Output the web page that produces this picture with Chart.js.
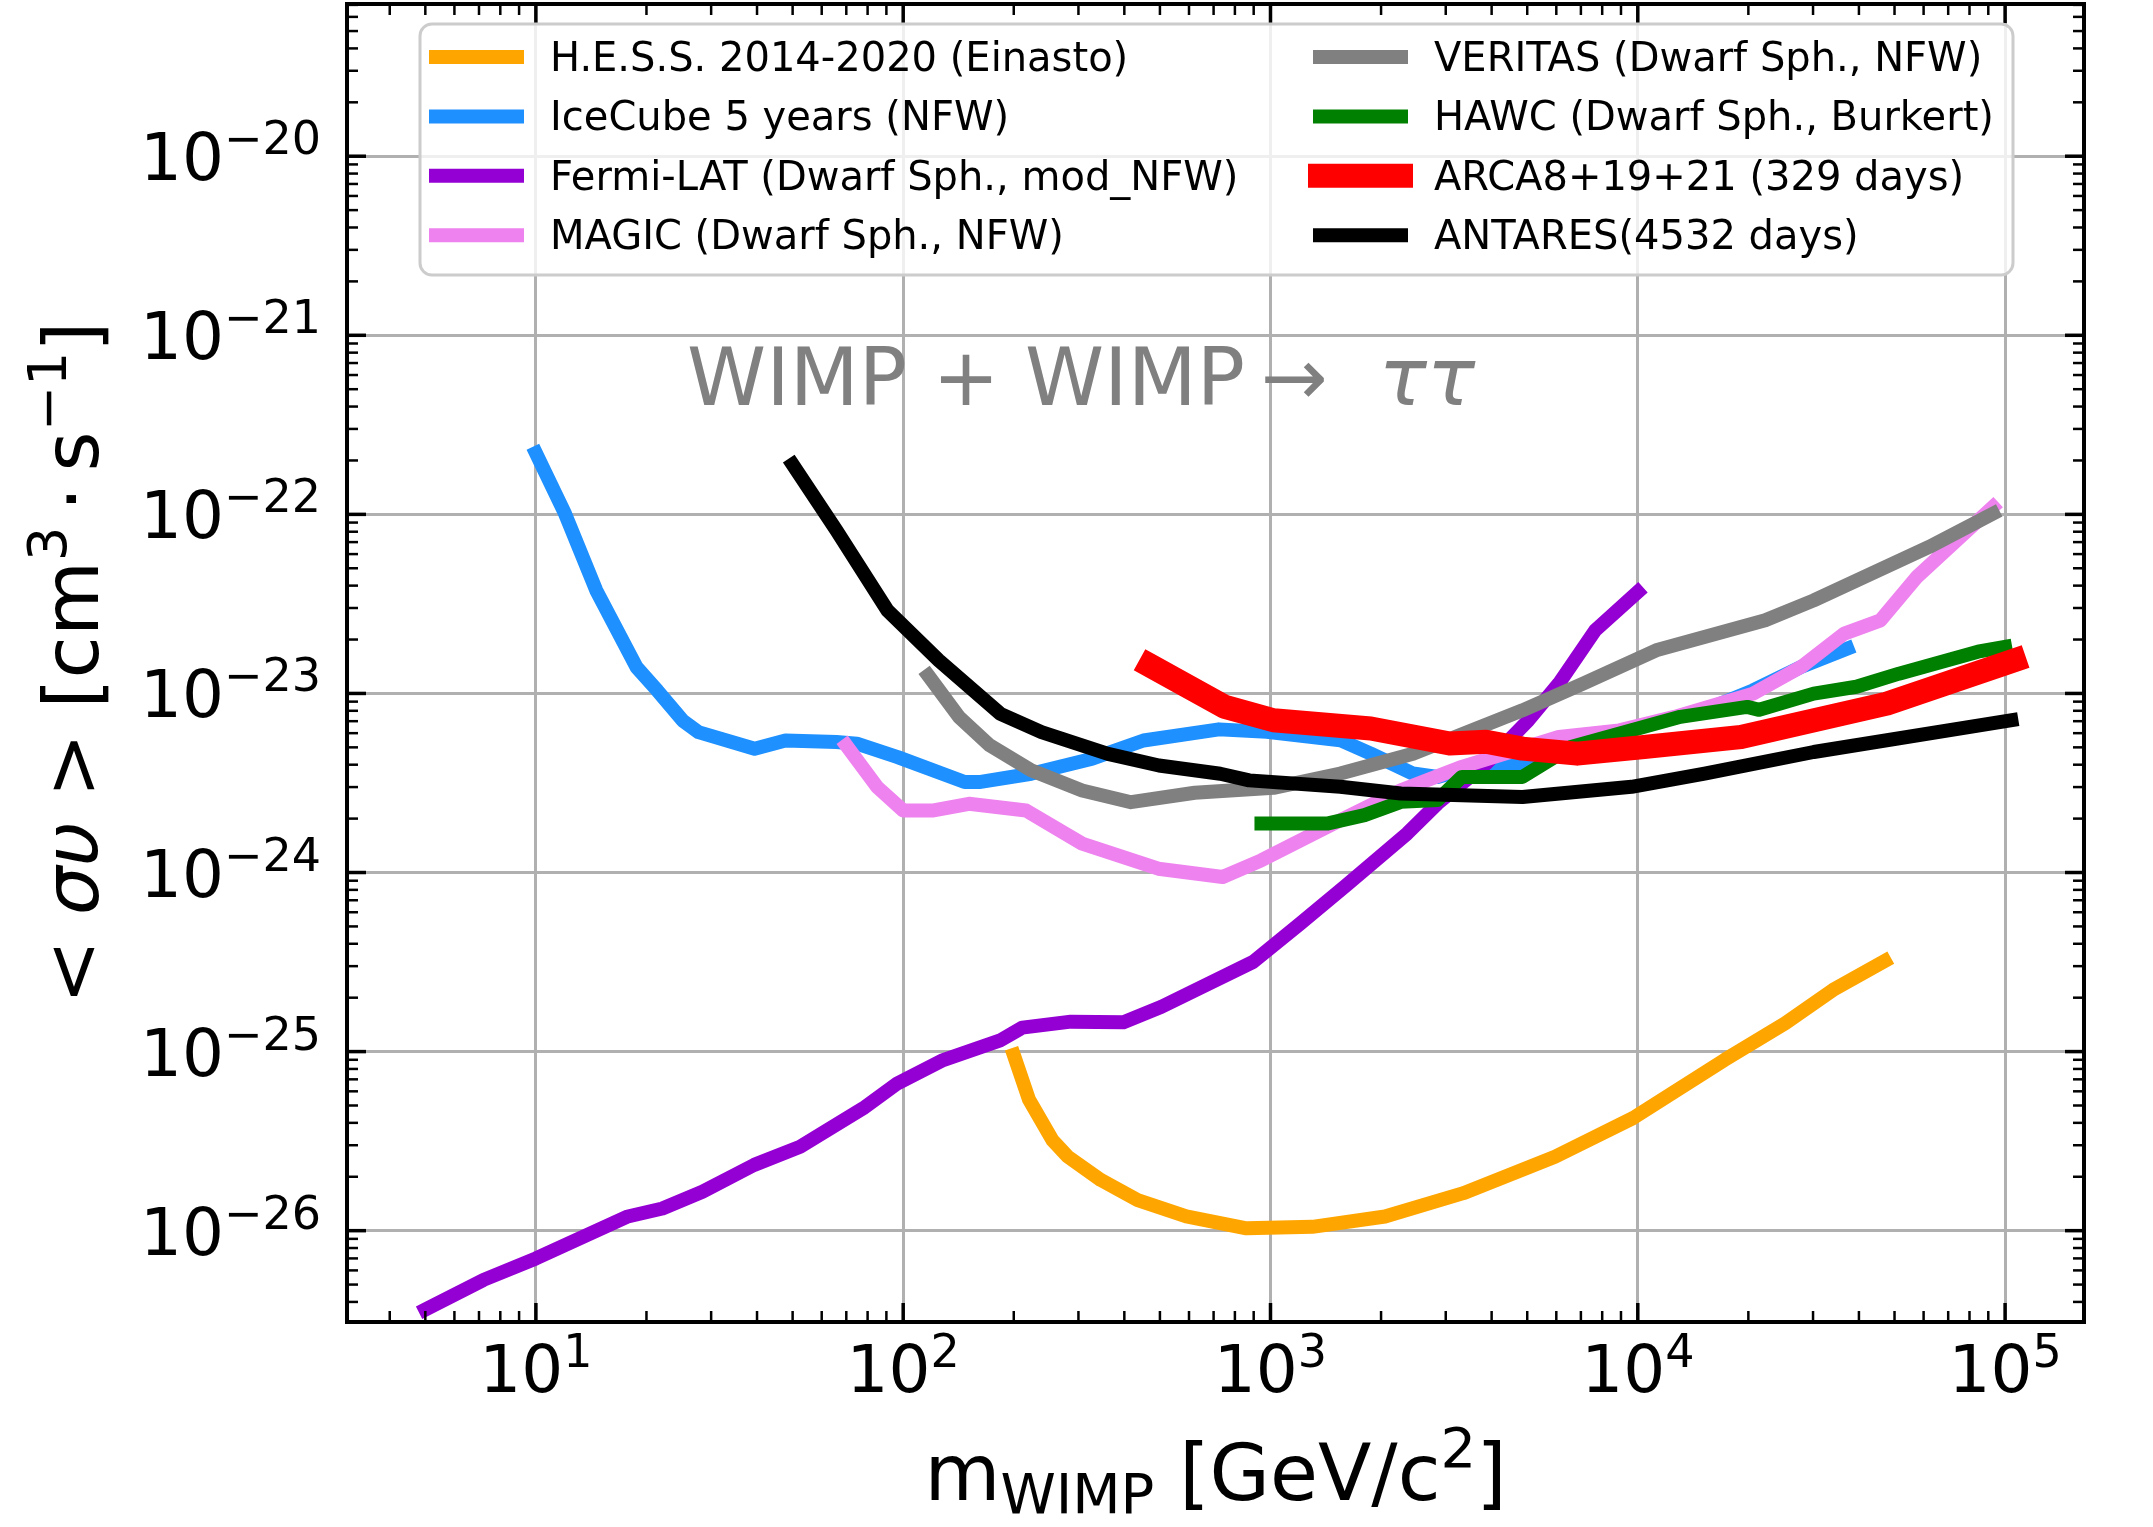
<!DOCTYPE html>
<html>
<head>
  <title>WIMP annihilation limits (tau tau)</title>
  <script src="https://cdn.jsdelivr.net/npm/chart.js"></script>
  <style>
    body { margin: 0; background: #fff; }
  </style>
</head>
<body>
  <canvas id="limitsChart" width="2153" height="1527"></canvas>

  <script>
    // WIMP mass [GeV/c^2] and <sigma v> upper limits [cm^3 s^-1]
    const hessMass  = [200, 220, 255, 280, 345, 435, 590, 860, 1300, 2050, 3350, 5950, 9700, 17200, 25200, 34000, 47000];
    const hessSigma = [9.6e-26, 5.4e-26, 3.2e-26, 2.6e-26, 1.92e-26, 1.48e-26, 1.2e-26, 1.03e-26, 1.05e-26, 1.2e-26, 1.62e-26, 2.59e-26, 4.25e-26, 8.97e-26, 1.44e-25, 2.21e-25, 3.2e-25];

    const iceMass  = [10, 12, 14.6, 18.8, 21.4, 25.1, 27.7, 39.4, 47.8, 65.8, 74.8, 96.6, 147, 161, 223, 327, 451, 724, 977, 1549, 1875, 2443, 2851, 3581, 4853, 7096, 10400, 15200, 20600, 27900, 37200];
    const iceSigma = [2.2e-22, 1.01e-22, 3.76e-23, 1.4e-23, 1.04e-23, 7.06e-24, 6.08e-24, 4.91e-24, 5.46e-24, 5.35e-24, 5.24e-24, 4.41e-24, 3.2e-24, 3.2e-24, 3.56e-24, 4.32e-24, 5.46e-24, 6.3e-24, 6.1e-24, 5.48e-24, 4.61e-24, 3.57e-24, 3.42e-24, 3.89e-24, 4.06e-24, 5.25e-24, 6.64e-24, 8.05e-24, 1.04e-23, 1.41e-23, 1.78e-23];

    const fermiMass  = [5, 7.2, 10, 17.8, 22.1, 28.4, 39.3, 52.4, 77.8, 96.4, 128.5, 184.5, 211, 286, 398, 505, 897, 1208, 1610, 2355, 2851, 3864, 5035, 6095, 7656, 10000];
    const fermiSigma = [3.63e-27, 5.31e-27, 7.0e-27, 1.2e-26, 1.33e-26, 1.65e-26, 2.33e-26, 2.94e-26, 4.82e-26, 6.64e-26, 8.97e-26, 1.16e-25, 1.36e-25, 1.47e-25, 1.46e-25, 1.78e-25, 3.17e-25, 5.21e-25, 8.51e-25, 1.65e-24, 2.43e-24, 4.06e-24, 7.08e-24, 1.135e-23, 2.25e-23, 3.69e-23];

    const magicMass  = [70, 85, 100, 121, 151, 216, 307, 495, 741, 944, 1549, 2265, 3319, 6095, 8913, 12590, 20600, 27900, 36500, 45800, 57500, 92700];
    const magicSigma = [5.13e-24, 3.0e-24, 2.22e-24, 2.22e-24, 2.42e-24, 2.22e-24, 1.45e-24, 1.05e-24, 9.44e-25, 1.17e-24, 1.96e-24, 2.88e-24, 3.89e-24, 5.71e-24, 6.22e-24, 7.4e-24, 9.98e-24, 1.41e-23, 2.16e-23, 2.56e-23, 4.47e-23, 1.1e-22];

    const veritasMass  = [117, 142, 172, 223, 307, 417, 622, 1019, 1549, 2443, 4853, 7096, 11220, 22230, 30130, 62090, 92700];
    const veritasSigma = [1.26e-23, 7.38e-24, 5.13e-24, 3.72e-24, 2.87e-24, 2.47e-24, 2.79e-24, 2.97e-24, 3.57e-24, 4.61e-24, 8.05e-24, 1.135e-23, 1.74e-23, 2.56e-23, 3.31e-23, 6.58e-23, 1.01e-22];

    const hawcMass  = [945, 1435, 1803, 2265, 2851, 3319, 4853, 6577, 13060, 19860, 21400, 30130, 39360, 51400, 84330, 100000];
    const hawcSigma = [1.88e-24, 1.88e-24, 2.09e-24, 2.48e-24, 2.54e-24, 3.42e-24, 3.42e-24, 5.02e-24, 7.4e-24, 8.41e-24, 8.1e-24, 9.98e-24, 1.09e-23, 1.29e-23, 1.71e-23, 1.82e-23];

    const arcaMass  = [470, 752, 1019, 1875, 3076, 3864, 4853, 6839, 10400, 19100, 47640, 105900];
    const arcaSigma = [1.43e-23, 8.41e-24, 7.08e-24, 6.37e-24, 5.25e-24, 5.37e-24, 4.92e-24, 4.61e-24, 5.02e-24, 5.71e-24, 8.77e-24, 1.53e-23];

    const antaresMass  = [50, 65.8, 90.6, 125, 184, 238, 361, 497, 730, 875, 1549, 2265, 4853, 9616, 15200, 30130, 104000];
    const antaresSigma = [1.9e-22, 8.15e-23, 2.91e-23, 1.53e-23, 7.69e-24, 6.08e-24, 4.6e-24, 3.96e-24, 3.56e-24, 3.27e-24, 3.01e-24, 2.76e-24, 2.64e-24, 3.01e-24, 3.57e-24, 4.71e-24, 7.08e-24];

    const seriesLabels = [
      'H.E.S.S. 2014-2020 (Einasto)',
      'IceCube 5 years (NFW)',
      'Fermi-LAT (Dwarf Sph., mod_NFW)',
      'MAGIC (Dwarf Sph., NFW)',
      'VERITAS (Dwarf Sph., NFW)',
      'HAWC (Dwarf Sph., Burkert)',
      'ARCA8+19+21 (329 days)',
      'ANTARES(4532 days)'
    ];
    const seriesMass  = [hessMass, iceMass, fermiMass, magicMass, veritasMass, hawcMass, arcaMass, antaresMass];
    const seriesSigma = [hessSigma, iceSigma, fermiSigma, magicSigma, veritasSigma, hawcSigma, arcaSigma, antaresSigma];

    // tick labels are powers of ten
    const xTickExponents = [1, 2, 3, 4, 5];
    const yTickExponents = [-26, -25, -24, -23, -22, -21, -20];

    // styling
    const seriesColors = ['#ffa500', '#1e90ff', '#9400d3', '#ee82ee', '#808080', '#008000', '#ff0000', '#000000'];
    const seriesWidths = [14, 14, 14, 14, 14, 14, 24, 14];
    const FONT = "'DejaVu Sans', sans-serif";

    function font(size, italic) {
      return (italic ? 'italic ' : '') + size + 'px ' + FONT;
    }

    // draw a row of text pieces (for super/subscripts); align: left | center | right
    function drawRuns(ctx, runs, x, y, align) {
      let total = 0;
      runs.forEach(r => {
        ctx.font = font(r.size, r.italic);
        r.w = ctx.measureText(r.t).width;
        total += r.w;
      });
      let cx = x;
      if (align === 'center') cx = x - total / 2;
      if (align === 'right') cx = x - total;
      ctx.textAlign = 'left';
      ctx.textBaseline = 'alphabetic';
      runs.forEach(r => {
        ctx.font = font(r.size, r.italic);
        ctx.fillText(r.t, cx, y + (r.dy || 0));
        cx += r.w;
      });
    }

    function line(ctx, x1, y1, x2, y2) {
      ctx.beginPath();
      ctx.moveTo(x1, y1);
      ctx.lineTo(x2, y2);
      ctx.stroke();
    }

    const decorations = {
      id: 'decorations',
      afterDraw(chart) {
        const ctx = chart.ctx;
        const a = chart.chartArea;
        const sx = chart.scales.x;
        const sy = chart.scales.y;
        ctx.save();
        ctx.fillStyle = '#000';
        ctx.strokeStyle = '#000';
        ctx.lineCap = 'butt';

        // inward ticks on all four sides
        for (let e = 0; e <= 5; e++) {
          for (let k = 1; k <= 9; k++) {
            const v = k * Math.pow(10, e);
            if (v < sx.min || v > sx.max) continue;
            const px = sx.getPixelForValue(v);
            const len = k === 1 ? 19 : 11;
            ctx.lineWidth = k === 1 ? 3.5 : 2.5;
            line(ctx, px, a.bottom, px, a.bottom - len);
            line(ctx, px, a.top, px, a.top + len);
          }
        }
        for (let e = -27; e <= -19; e++) {
          for (let k = 1; k <= 9; k++) {
            const v = k * Math.pow(10, e);
            if (v < sy.min || v > sy.max) continue;
            const py = sy.getPixelForValue(v);
            const len = k === 1 ? 19 : 11;
            ctx.lineWidth = k === 1 ? 3.5 : 2.5;
            line(ctx, a.left, py, a.left + len, py);
            line(ctx, a.right, py, a.right - len, py);
          }
        }

        // frame
        ctx.lineWidth = 4;
        ctx.strokeRect(a.left, a.top, a.right - a.left, a.bottom - a.top);

        // tick labels
        xTickExponents.forEach(e => {
          const px = sx.getPixelForValue(Math.pow(10, e));
          drawRuns(ctx, [
            {t: '10', size: 66},
            {t: String(e), size: 46, dy: -25}
          ], px, a.bottom + 70, 'center');
        });
        yTickExponents.forEach(e => {
          const py = sy.getPixelForValue(Math.pow(10, e));
          drawRuns(ctx, [
            {t: '10', size: 66},
            {t: '\u2212' + Math.abs(e), size: 46, dy: -26}
          ], a.left - 26, py + 24, 'right');
        });

        // axis titles
        drawRuns(ctx, [
          {t: 'm', size: 78},
          {t: 'WIMP', size: 56, dy: 13},
          {t: ' [GeV/c', size: 78},
          {t: '2', size: 56, dy: -33},
          {t: ']', size: 78}
        ], (a.left + a.right) / 2, 1500, 'center');

        ctx.save();
        ctx.translate(98, (a.top + a.bottom) / 2);
        ctx.rotate(-Math.PI / 2);
        drawRuns(ctx, [
          {t: '< ', size: 77},
          {t: '\u03c3\u03c5', size: 77, italic: true},
          {t: ' > [cm', size: 77},
          {t: '3', size: 54, dy: -32},
          {t: '\u2009\u00b7\u2009s', size: 77},
          {t: '\u22121', size: 54, dy: -32},
          {t: ']', size: 77}
        ], 0, 0, 'center');
        ctx.restore();

        // process annotation
        ctx.fillStyle = '#808080';
        drawRuns(ctx, [
          {t: 'WIMP + WIMP', size: 80},
          {t: '\u2009\u2192  ', size: 80},
          {t: '\u03c4\u03c4', size: 80, italic: true}
        ], sx.getPixelForValue(25.8), sy.getPixelForValue(4.1e-22), 'left');

        // legend (two columns, column-major like matplotlib)
        const lx = 420, ly = 24, lw = 1593, lh = 251;
        ctx.beginPath();
        ctx.roundRect(lx, ly, lw, lh, 12);
        ctx.fillStyle = 'rgba(255,255,255,0.8)';
        ctx.fill();
        ctx.lineWidth = 3;
        ctx.strokeStyle = '#cccccc';
        ctx.stroke();

        const ds = chart.data.datasets;
        ds.forEach((d, i) => {
          const col = Math.floor(i / 4);
          const row = i % 4;
          const hx = col === 0 ? 436 : 1320;
          const tx = col === 0 ? 550 : 1434;
          const ry = 57 + row * 59.4;
          ctx.strokeStyle = d.borderColor;
          ctx.lineWidth = d.borderWidth;
          ctx.lineCap = 'square';
          line(ctx, hx, ry, hx + 81, ry);
          ctx.fillStyle = '#000';
          ctx.font = font(40);
          ctx.textAlign = 'left';
          ctx.textBaseline = 'alphabetic';
          ctx.fillText(d.label, tx, ry + 14);
        });
        ctx.restore();
      }
    };

    const datasets = seriesLabels.map((label, i) => ({
      label: label,
      data: seriesMass[i].map((m, j) => ({x: m, y: seriesSigma[i][j]})),
      showLine: true,
      borderColor: seriesColors[i],
      backgroundColor: seriesColors[i],
      borderWidth: seriesWidths[i],
      borderCapStyle: 'square',
      borderJoinStyle: 'round',
      pointRadius: 0,
      pointHoverRadius: 0,
      tension: 0,
      clip: 0,
      order: seriesLabels.length - 1 - i
    }));

    const ctx = document.getElementById('limitsChart').getContext('2d');
    new Chart(ctx, {
      type: 'scatter',
      data: { datasets: datasets },
      options: {
        responsive: false,
        animation: false,
        devicePixelRatio: 1,
        events: [],
        layout: { padding: { left: 347, right: 69, top: 4, bottom: 205 } },
        plugins: {
          legend: { display: false },
          tooltip: { enabled: false }
        },
        scales: {
          x: {
            type: 'logarithmic',
            min: 3.06,
            max: 1.64e5,
            ticks: { display: false },
            grid: { color: '#b0b0b0', lineWidth: 3, drawTicks: false },
            border: { display: false },
            afterBuildTicks: axis => {
              axis.ticks = xTickExponents.map(e => ({ value: Math.pow(10, e) }));
            }
          },
          y: {
            type: 'logarithmic',
            min: 3.09e-27,
            max: 7.08e-20,
            ticks: { display: false },
            grid: { color: '#b0b0b0', lineWidth: 3, drawTicks: false },
            border: { display: false },
            afterBuildTicks: axis => {
              axis.ticks = yTickExponents.map(e => ({ value: Math.pow(10, e) }));
            }
          }
        }
      },
      plugins: [decorations]
    });
  </script>
</body>
</html>
